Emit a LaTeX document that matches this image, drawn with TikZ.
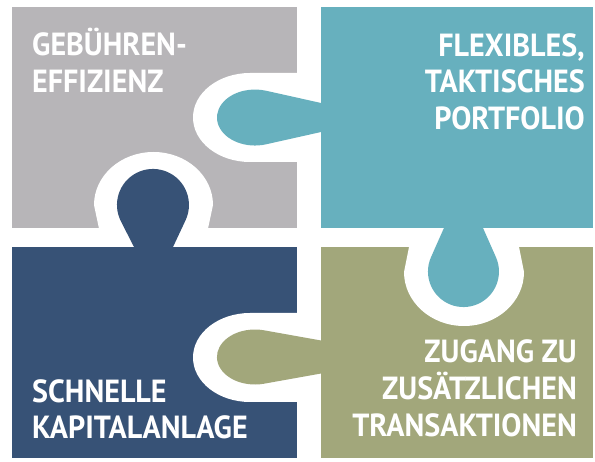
\documentclass[tikz,border=0pt]{standalone}
\usepackage{fontspec}
\newfontfamily\pfont{PT Sans}[FakeStretch=0.94]
\definecolor{cgrey}{HTML}{B7B5B8}
\definecolor{cteal}{HTML}{67B0BE}
\definecolor{cblue}{HTML}{375276}
\definecolor{colive}{HTML}{A2A77B}
\begin{document}
\begin{tikzpicture}[x=1pt,y=-1pt]
\tikzset{lbl/.style={inner sep=0pt, text=white, font=\pfont\bfseries\fontsize{32}{37}\selectfont}}
\fill[white] (0,0) rectangle (595,462);
\useasboundingbox (0,0) rectangle (595,462);
% pieces
\fill[cgrey] (12,7) rectangle (297,228);
\fill[cteal] (321,7) rectangle (593,228);
\fill[cblue] (12,247) rectangle (297,458);
\fill[colive] (321,247) rectangle (593,458);
% holes
\fill[white] (310,162) -- (250,162) arc[start angle=90,end angle=270,x radius=57,y radius=44.5] -- (310,73) -- cycle;
\fill[white] (310,402) -- (250,402) arc[start angle=90,end angle=270,x radius=57,y radius=44.5] -- (310,313) -- cycle;
\fill[white] (101,238) -- (94,205) arc[start angle=180,end angle=360,x radius=59.5,y radius=53] -- (206,238) -- cycle;
\fill[white] (517,237) -- (524,272) arc[start angle=0,end angle=180,x radius=60,y radius=54] -- (411,237) -- cycle;
% knobs
\fill[cteal] (330,130) -- (266.1,144.3) arc[start angle=73,end angle=287,x radius=38,y radius=28] -- (330,105) -- cycle;
\fill[colive] (330,371.9) -- (263.5,383.8) arc[start angle=77,end angle=283,x radius=38,y radius=27.5] -- (330,342.1) -- cycle;
\fill[cblue] (138.6,256) -- (120.9,221.3) arc[start angle=153,end angle=385.2,radius=36] -- (168.8,256) -- cycle;
\fill[cteal] (478.6,218) -- (495.9,257.1) arc[start angle=-24,end angle=204,radius=35.5] -- (448.4,218) -- cycle;
% labels
\node[lbl, anchor=base west] (ga) at (32,56) {GEBÜHREN-};
\node[lbl, anchor=base west] (gb) at (32,93) {EFFIZIENZ};
\node[lbl, anchor=base east] (fa) at (585,57) {FLEXIBLES,};
\node[lbl, anchor=base east] (fb) at (585,93) {TAKTISCHES};
\node[lbl, anchor=base east] (fc) at (585,130) {PORTFOLIO};
\node[lbl, anchor=base west] (sa) at (32,403) {SCHNELLE};
\node[lbl, anchor=base west] (sb) at (32,439) {KAPITALANLAGE};
\node[lbl, anchor=base east] (za) at (577,363) {ZUGANG ZU};
\node[lbl, anchor=base east] (zb) at (577,400) {ZUSÄTZLICHEN};
\node[lbl, anchor=base east] (zc) at (577,437) {TRANSAKTIONEN};
\end{tikzpicture}
\end{document}
